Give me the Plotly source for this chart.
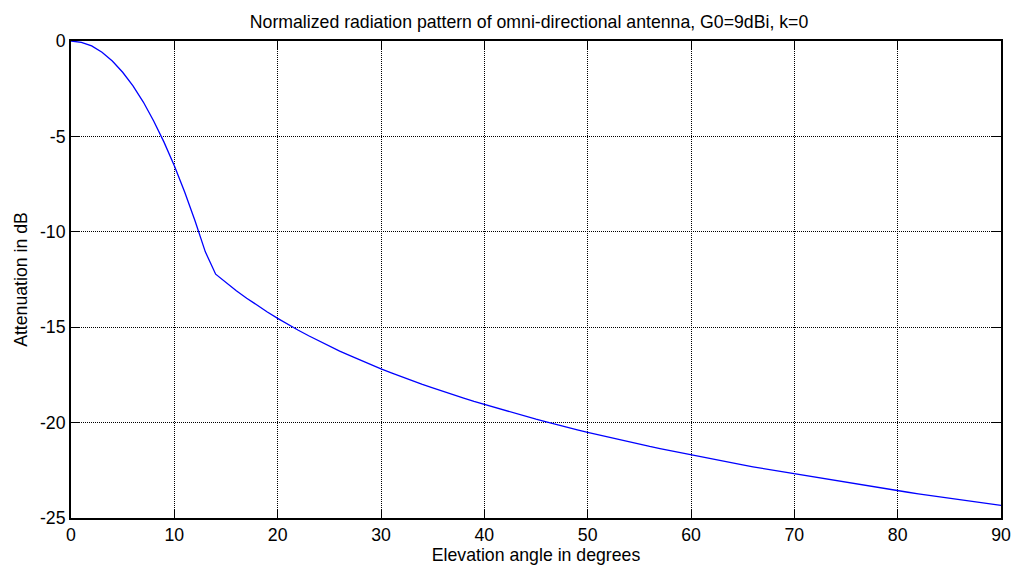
import plotly.graph_objects as go

elevation_deg = list(range(0, 91))
attenuation_db = [
    0.00, -0.07, -0.26, -0.59, -1.05, -1.64, -2.35, -3.20, -4.19, -5.30,
    -6.54, -7.91, -9.42, -11.05, -12.22, -12.66, -13.09, -13.48, -13.85, -14.20,
    -14.54, -14.86, -15.16, -15.45, -15.73, -15.99, -16.25, -16.49, -16.73, -16.96,
    -17.18, -17.39, -17.60, -17.80, -18.00, -18.18, -18.37, -18.55, -18.72, -18.89,
    -19.05, -19.22, -19.37, -19.53, -19.68, -19.82, -19.96, -20.11, -20.24, -20.38,
    -20.51, -20.64, -20.76, -20.89, -21.01, -21.13, -21.25, -21.36, -21.47, -21.59,
    -21.70, -21.80, -21.91, -22.01, -22.12, -22.22, -22.32, -22.41, -22.51, -22.61,
    -22.70, -22.79, -22.88, -22.97, -23.06, -23.15, -23.24, -23.32, -23.40, -23.49,
    -23.57, -23.65, -23.73, -23.81, -23.89, -23.96, -24.04, -24.12, -24.19, -24.26,
    -24.34,
]
x_ticks = [0, 10, 20, 30, 40, 50, 60, 70, 80, 90]
y_ticks = [0, -5, -10, -15, -20, -25]

font = dict(family="Liberation Sans, Arial, sans-serif", size=17.7, color="black")

fig = go.Figure()
fig.add_trace(go.Scatter(
    x=elevation_deg, y=attenuation_db, mode="lines",
    line=dict(color="#0000ff", width=1.3), showlegend=False,
))

axis_common = dict(
    showline=True, linecolor="black", linewidth=1.8, mirror="ticks",
    ticks="inside", ticklen=9, tickcolor="black", tickwidth=1.3,
    showgrid=True, gridcolor="black", griddash="1px,1px", gridwidth=1,
    zeroline=False, tickfont=font, automargin=False,
    ticklabeloverflow="allow",
)

W, H = 1011, 569
L, R, T, B = 71, 10, 41, 51
fig.update_layout(
    width=W, height=H,
    paper_bgcolor="white", plot_bgcolor="white",
    margin=dict(l=L, r=R, t=T, b=B, autoexpand=False),
    font=font,
    title=dict(
        text="Normalized radiation pattern of omni-directional antenna, G0=9dBi, k=0",
        x=((L + W - R) / 2 - 7) / W, xanchor="center", y=1 - 22 / H, yanchor="middle",
        font=font,
    ),
    xaxis=dict(
        range=[0, 90], tickvals=x_ticks, ticktext=[str(v) for v in x_ticks],
        title=dict(text="Elevation angle in degrees", font=font, standoff=1),
        **axis_common,
    ),
    yaxis=dict(
        range=[-25, 0], tickvals=y_ticks, ticktext=[str(v) for v in y_ticks],
        title=dict(text="Attenuation in dB", font=font, standoff=8),
        **axis_common,
    ),
)

fig.write_html(
    "out.html",
    config={"displayModeBar": False},
    post_script="document.body.style.margin='0';document.body.style.overflow='hidden';",
)
